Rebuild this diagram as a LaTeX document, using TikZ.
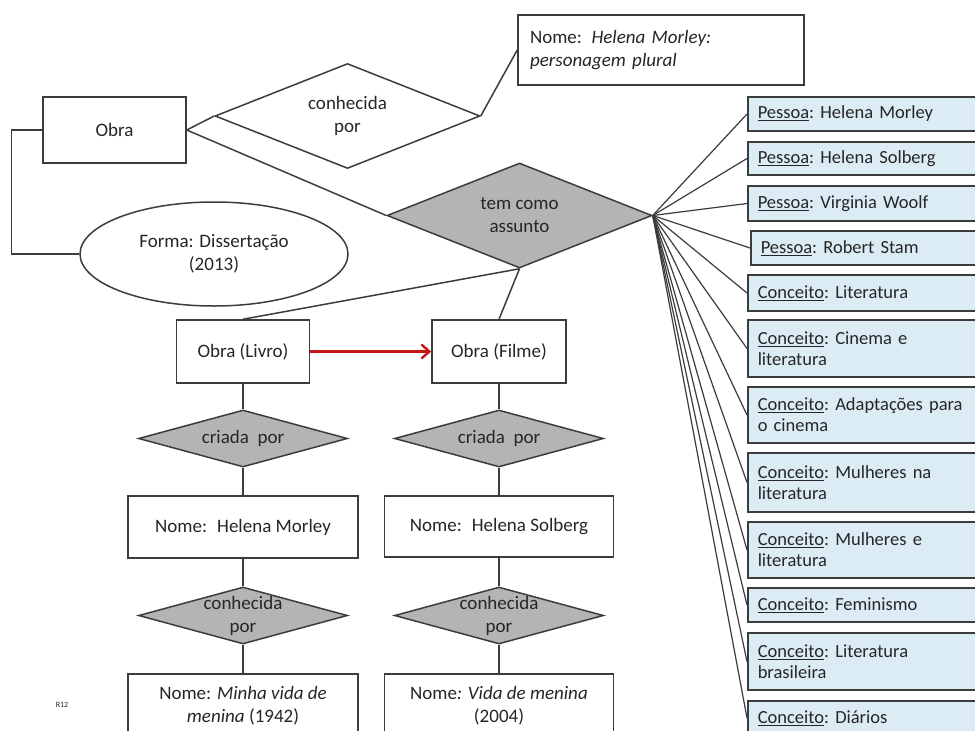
\documentclass[tikz,border=0pt]{standalone}
\usepackage{fontspec}
\setmainfont{Carlito}
\usetikzlibrary{shapes.geometric,arrows.meta}
\definecolor{ln}{HTML}{3C3C3C}
\definecolor{tx}{HTML}{262626}
\definecolor{dgray}{HTML}{B4B4B4}
\definecolor{lblue}{HTML}{DCECF4}
\definecolor{rd}{HTML}{C41818}
\tikzset{
  base/.style={draw=ln, line width=1.5pt, text=tx, font=\fontsize{19}{23}\selectfont, inner sep=0pt},
  ent/.style={base, rectangle, align=center},
  dia/.style={base, diamond, fill=dgray},
  wdia/.style={base, diamond, fill=white},
  diatext/.style={text=tx, font=\fontsize{19}{23}\selectfont, align=center, inner sep=0pt},
  bbox/.style={draw=ln, line width=1.5pt, fill=lblue, text=tx, rectangle, anchor=west,
    minimum width=243pt, text width=223pt, align=left, inner sep=0pt,
    font=\fontsize{18.5}{21}\selectfont\frenchspacing},
  conn/.style={draw=ln, line width=1.5pt},
}
\begin{document}
\begin{tikzpicture}[x=1pt,y=-1pt]
\clip (0,0) rectangle (975,731);
\fill[white] (0,0) rectangle (975,731);

% top-left part
\node[ent, minimum width=143pt, minimum height=66pt] (obra) at (114.5,130) {Obra};
\node[wdia, minimum width=265pt, minimum height=105pt] (kp) at (347.5,116) {};
\node[diatext] (kpt) at (kp.center) {conhecida\\por};
\node[ent, minimum width=286pt, minimum height=70pt, text width=262pt, align=left] (hmp) at (661,50)
  {Nome: \textit{Helena Morley:}\\\textit{personagem plural}};
\node[dia, minimum width=265pt, minimum height=105pt] (tca) at (519.5,215.5) {};
\node[diatext] (tcat) at (tca.center) {tem como\\assunto};
\node[base, ellipse, minimum width=268pt, minimum height=104pt, align=center] (forma) at (214,254)
  {Forma: Dissertação\\(2013)};

% left column
\node[ent, minimum width=133pt, minimum height=63pt] (livro) at (243,351.5) {Obra (Livro)};
\node[dia, minimum width=209pt, minimum height=57pt] (cp1) at (243,438.5) {};
\node[diatext] (cp1t) at (cp1.center) {criada \ por};
\node[ent, minimum width=230pt, minimum height=62pt] (hm) at (243,527) {Nome: \ Helena Morley};
\node[dia, minimum width=209pt, minimum height=57pt] (kp1) at (243,615.5) {};
\node[diatext] (kp1t) at (kp1.center) {conhecida\\por};
\node[ent, minimum width=230pt, minimum height=64pt, anchor=north] (mv) at (243,673)
  {Nome: \textit{Minha vida de}\\\textit{menina} (1942)};

% right column
\node[ent, minimum width=134pt, minimum height=63pt] (filme) at (499,351.5) {Obra (Filme)};
\node[dia, minimum width=209pt, minimum height=57pt] (cp2) at (499,438.5) {};
\node[diatext] (cp2t) at (cp2.center) {criada \ por};
\node[ent, minimum width=229pt, minimum height=61pt] (hs) at (499,526.5) {Nome: \ Helena Solberg};
\node[dia, minimum width=209pt, minimum height=57pt] (kp2) at (499,615.5) {};
\node[diatext] (kp2t) at (kp2.center) {conhecida\\por};
\node[ent, minimum width=229pt, minimum height=64pt, anchor=north] (vm) at (499,673)
  {Nome\textit{: Vida de menina}\\(2004)};

\node[text=tx, font=\fontsize{8}{9}\selectfont, inner sep=0pt] (r12) at (62,705) {R12};

% subject boxes
\node[bbox, minimum height=34pt] (s1) at (747,114) {\underline{Pessoa}: Helena Morley};
\node[bbox, minimum height=33pt] (s2) at (747,158.5) {\underline{Pessoa}: Helena Solberg};
\node[bbox, minimum height=35pt] (s3) at (747,203.5) {\underline{Pessoa}: Virginia Woolf};
\node[bbox, minimum height=34pt] (s4) at (750,248) {\underline{Pessoa}: Robert Stam};
\node[bbox, minimum height=36pt] (s5) at (747,293) {\underline{Conceito}: Literatura};
\node[bbox, minimum height=57pt] (s6) at (747,348.5) {\underline{Conceito}: Cinema e\\literatura};
\node[bbox, minimum height=56pt] (s7) at (747,415) {\underline{Conceito}: Adaptações para\\o cinema};
\node[bbox, minimum height=59pt] (s8) at (747,482.5) {\underline{Conceito}: Mulheres na\\literatura};
\node[bbox, minimum height=56pt] (s9) at (747,550) {\underline{Conceito}: Mulheres e\\literatura};
\node[bbox, minimum height=34pt] (s10) at (747,605) {\underline{Conceito}: Feminismo};
\node[bbox, minimum height=57pt] (s11) at (747,661.5) {\underline{Conceito}: Literatura\\brasileira};
\node[bbox, minimum height=34pt] (s12) at (747,718) {\underline{Conceito}: Diários};

% connectors
\draw[conn] (obra.east) -- (kp.west);
\draw[conn] (kp.east) -- (hmp.west);
\draw[conn] (obra.east) -- (tca.west);
\draw[conn] (obra.west) -- ++(-31,0) |- (forma.west);
\draw[conn] (tca.south) -- (livro.north);
\draw[conn] (tca.south) -- (filme.north);
\draw[rd, line width=3pt, -{Straight Barb[length=8pt,width=14pt,line width=2.4pt]}] (livro.east) -- (filme.west);
\draw[conn] (livro.south) -- (cp1.north);
\draw[conn] (cp1.south) -- (hm.north);
\draw[conn] (hm.south) -- (kp1.north);
\draw[conn] (kp1.south) -- (mv.north);
\draw[conn] (filme.south) -- (cp2.north);
\draw[conn] (cp2.south) -- (hs.north);
\draw[conn] (hs.south) -- (kp2.north);
\draw[conn] (kp2.south) -- (vm.north);
\foreach \s in {s1,s2,s3,s4,s5,s6,s7,s8,s9,s10,s11,s12}
  \draw[conn, line width=1.2pt] (tca.east) -- (\s.west);
\end{tikzpicture}
\end{document}
